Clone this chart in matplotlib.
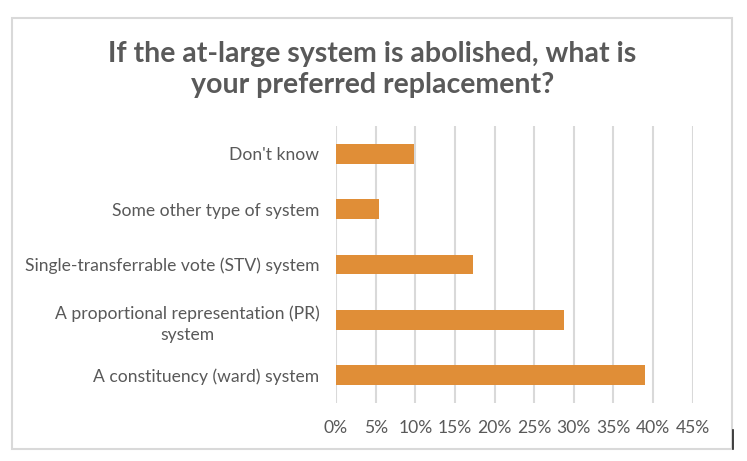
import matplotlib
matplotlib.use("Agg")
import matplotlib.pyplot as plt
from matplotlib.patches import Rectangle
from matplotlib.lines import Line2D
from matplotlib.ticker import PercentFormatter

categories = [
    "A constituency (ward) system",
    "A proportional representation (PR)\nsystem",
    "Single-transferrable vote (STV) system",
    "Some other type of system",
    "Don't know",
]
values = [0.390, 0.288, 0.173, 0.054, 0.098]
xticks = [0, 0.05, 0.10, 0.15, 0.20, 0.25, 0.30, 0.35, 0.40, 0.45]
title = "If the at-large system is abolished, what is\nyour preferred replacement?"

W, H = 747, 461
fig = plt.figure(figsize=(W / 100, H / 100), dpi=100)
fig.patch.set_facecolor("white")

def fx(px):
    return px / W

def fy(py):
    return 1 - py / H

# outer frame
fig.patches.append(Rectangle((fx(12), fy(449)), fx(732) - fx(12), fy(18) - fy(449),
                             transform=fig.transFigure, fill=False,
                             edgecolor="#d9d9d9", linewidth=1.5))
fig.lines.append(Line2D([fx(733), fx(733)], [fy(430), fy(449)],
                        transform=fig.transFigure, color="#222222", linewidth=1.2))

ax = fig.add_axes([fx(336), fy(403), fx(692.7) - fx(336), fy(126) - fy(403)])
ypos = list(range(len(categories)))
ax.barh(ypos, values, height=0.36, color="#E08E37", zorder=3)
ax.set_xlim(0, 0.45)
ax.set_ylim(-0.5, len(categories) - 0.5)
ax.set_xticks(xticks)
ax.xaxis.set_major_formatter(PercentFormatter(1.0, decimals=0))
ax.set_yticks(ypos)
ax.set_yticklabels(categories, multialignment="center", linespacing=1.4)
ax.grid(axis="x", color="#d9d9d9", linewidth=1.5, zorder=0)
for s in ax.spines.values():
    s.set_visible(False)
ax.tick_params(axis="both", length=0, colors="#595959", labelsize=12.6)
ax.tick_params(axis="y", pad=12)
ax.tick_params(axis="x", pad=12)
for lab in ax.get_xticklabels() + ax.get_yticklabels():
    lab.set_family("Lato")
    lab.set_color("#595959")

fig.text(fx(372.5), fy(93), title, ha="center", va="baseline", fontsize=20.5,
         fontweight="bold", family="Lato", color="#595959", linespacing=1.22)

fig.savefig("out.png", dpi=100, facecolor="white")
